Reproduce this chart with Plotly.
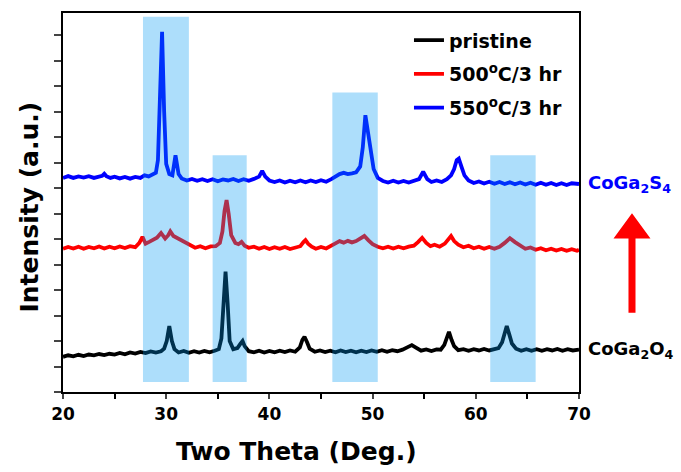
import plotly.graph_objects as go

# ---------------- data ----------------
two_theta_pristine = [20, 20.5, 21, 21.5, 22, 22.5, 23, 23.5, 24, 24.5,
                      25, 25.5, 26, 26.5, 27, 27.5, 28, 28.5, 29, 29.5,
                      29.8, 30.05, 30.3, 30.55, 30.8, 31.2, 31.7, 32.2, 32.7, 33.2,
                      33.7, 34.2, 34.7, 35.1, 35.35, 35.55, 35.75, 35.95, 36.15, 36.5,
                      36.9, 37.2, 37.4, 37.6, 38.0, 38.5, 39, 39.5, 40, 40.5,
                      41, 41.5, 42, 42.5, 42.95, 43.2, 43.4, 43.65, 43.9, 44.4,
                      44.9, 45.4, 45.9, 46.4, 46.9, 47.4, 47.9, 48.4, 48.9, 49.4,
                      49.9, 50.4, 50.9, 51.4, 51.9, 52.4, 52.9, 53.4, 53.8, 54.2,
                      54.7, 55.2, 55.7, 56.2, 56.6, 56.95, 57.2, 57.4, 57.65, 57.9,
                      58.3, 58.8, 59.3, 59.8, 60.3, 60.8, 61.3, 61.8, 62.2, 62.55,
                      62.8, 63.0, 63.25, 63.5, 63.9, 64.4, 64.9, 65.4, 65.9, 66.4,
                      66.9, 67.4, 67.9, 68.4, 68.9, 69.4, 70]
intensity_pristine = [1.38, 1.44, 1.40, 1.46, 1.41, 1.47, 1.44, 1.49, 1.45, 1.50,
                      1.47, 1.53, 1.48, 1.55, 1.51, 1.57, 1.53, 1.59, 1.55, 1.60,
                      1.70, 2.00, 2.59, 2.00, 1.68, 1.55, 1.61, 1.54, 1.60, 1.55,
                      1.61, 1.56, 1.62, 1.68, 2.10, 3.60, 4.72, 3.50, 2.00, 1.68,
                      1.72, 1.90, 2.00, 1.80, 1.60, 1.56, 1.62, 1.55, 1.61, 1.56,
                      1.62, 1.57, 1.63, 1.58, 1.75, 2.05, 2.17, 1.95, 1.70, 1.58,
                      1.63, 1.57, 1.62, 1.56, 1.63, 1.57, 1.62, 1.56, 1.62, 1.57,
                      1.63, 1.58, 1.64, 1.58, 1.64, 1.60, 1.66, 1.76, 1.84, 1.74,
                      1.62, 1.67, 1.61, 1.67, 1.66, 1.85, 2.15, 2.36, 2.05, 1.80,
                      1.64, 1.68, 1.62, 1.68, 1.63, 1.69, 1.63, 1.69, 1.72, 1.95,
                      2.35, 2.59, 2.25, 1.90, 1.70, 1.62, 1.68, 1.62, 1.68, 1.62,
                      1.68, 1.63, 1.69, 1.62, 1.68, 1.63, 1.66]

two_theta_500 = [20, 20.5, 21, 21.5, 22, 22.5, 23, 23.5, 24, 24.5,
                 25, 25.5, 26, 26.5, 27, 27.4, 27.7, 28.0, 28.4, 28.8,
                 29.1, 29.5, 29.9, 30.2, 30.4, 30.7, 31.0, 31.4, 31.8, 32.3,
                 32.8, 33.3, 33.8, 34.3, 34.8, 35.2, 35.45, 35.65, 35.85, 36.05,
                 36.3, 36.7, 37.0, 37.3, 37.6, 38.0, 38.5, 39, 39.5, 40,
                 40.5, 41, 41.5, 42, 42.5, 43.0, 43.3, 43.5, 43.75, 44.1,
                 44.5, 45, 45.5, 46, 46.4, 46.8, 47.2, 47.6, 48.0, 48.4,
                 48.8, 49.2, 49.6, 50.0, 50.5, 51, 51.5, 52, 52.5, 53,
                 53.5, 54.0, 54.4, 54.8, 55.2, 55.6, 56.0, 56.5, 57.0, 57.3,
                 57.6, 57.9, 58.3, 58.8, 59.3, 59.8, 60.3, 60.8, 61.3, 61.8,
                 62.3, 62.8, 63.3, 63.8, 64.3, 64.8, 65.3, 65.8, 66.3, 66.8,
                 67.3, 67.8, 68.3, 68.8, 69.3, 69.8, 70]
intensity_500 = [5.62, 5.69, 5.63, 5.70, 5.62, 5.69, 5.64, 5.71, 5.63, 5.70,
                 5.64, 5.71, 5.65, 5.72, 5.68, 5.85, 6.09, 5.82, 5.90, 5.98,
                 6.05, 6.24, 6.02, 6.15, 6.30, 6.12, 6.05, 5.98, 5.85, 5.75,
                 5.66, 5.72, 5.64, 5.71, 5.72, 5.85, 6.30, 7.10, 7.53, 7.00,
                 6.15, 5.85, 5.80, 5.89, 5.74, 5.66, 5.70, 5.62, 5.69, 5.61,
                 5.68, 5.62, 5.69, 5.61, 5.68, 5.72, 5.88, 5.96, 5.82, 5.70,
                 5.62, 5.69, 5.63, 5.72, 5.83, 5.92, 5.86, 5.93, 5.87, 5.92,
                 6.00, 6.12, 5.95, 5.80, 5.70, 5.64, 5.70, 5.63, 5.70, 5.64,
                 5.70, 5.74, 5.88, 6.05, 5.85, 5.72, 5.78, 5.70, 5.82, 5.98,
                 6.12, 5.92, 5.78, 5.68, 5.74, 5.64, 5.70, 5.62, 5.69, 5.62,
                 5.70, 5.85, 6.03, 5.88, 5.74, 5.62, 5.67, 5.58, 5.64, 5.56,
                 5.62, 5.55, 5.61, 5.54, 5.60, 5.54, 5.58]

two_theta_550 = [20, 20.5, 21, 21.5, 22, 22.5, 23, 23.5, 23.8, 24.0,
                 24.2, 24.6, 25, 25.5, 26, 26.5, 27, 27.5, 27.9, 28.3,
                 28.7, 29.0, 29.2, 29.4, 29.6, 29.8, 30.0, 30.3, 30.6, 30.9,
                 31.2, 31.5, 32.0, 32.5, 33, 33.5, 34, 34.5, 35, 35.5,
                 36, 36.5, 37, 37.5, 38, 38.5, 39.0, 39.3, 39.6, 40.0,
                 40.5, 41, 41.5, 42, 42.5, 43, 43.5, 44, 44.5, 45,
                 45.5, 46.0, 46.4, 46.8, 47.2, 47.6, 48.0, 48.4, 48.8, 49.05,
                 49.3, 49.55, 49.8, 50.1, 50.5, 51, 51.5, 52, 52.5, 53,
                 53.5, 54.0, 54.5, 54.9, 55.3, 55.7, 56.2, 56.7, 57.2, 57.6,
                 57.9, 58.15, 58.35, 58.6, 58.9, 59.3, 59.8, 60.3, 60.8, 61.3,
                 61.8, 62.3, 62.8, 63.3, 63.8, 64.3, 64.8, 65.3, 65.8, 66.3,
                 66.8, 67.3, 67.8, 68.3, 68.8, 69.3, 70]
intensity_550 = [8.40, 8.47, 8.40, 8.46, 8.41, 8.47, 8.40, 8.46, 8.48, 8.56,
                 8.47, 8.40, 8.45, 8.38, 8.44, 8.37, 8.44, 8.40, 8.50, 8.46,
                 8.52, 8.60, 9.10, 11.20, 14.13, 11.00, 8.95, 8.55, 8.50, 9.29,
                 8.55, 8.38, 8.30, 8.36, 8.29, 8.35, 8.28, 8.35, 8.27, 8.34,
                 8.30, 8.36, 8.28, 8.35, 8.29, 8.36, 8.45, 8.68, 8.45, 8.30,
                 8.24, 8.30, 8.22, 8.29, 8.23, 8.30, 8.23, 8.30, 8.24, 8.31,
                 8.25, 8.35, 8.45, 8.55, 8.60, 8.55, 8.58, 8.62, 8.85, 9.60,
                 10.86, 10.20, 9.30, 8.75, 8.40, 8.28, 8.22, 8.29, 8.22, 8.28,
                 8.22, 8.28, 8.35, 8.64, 8.35, 8.24, 8.30, 8.24, 8.35, 8.50,
                 8.75, 9.10, 9.16, 8.85, 8.50, 8.30, 8.20, 8.26, 8.18, 8.25,
                 8.17, 8.24, 8.16, 8.23, 8.15, 8.22, 8.14, 8.21, 8.13, 8.21,
                 8.13, 8.20, 8.12, 8.19, 8.12, 8.19, 8.16]

series_names = ["pristine", "500<sup>o</sup>C/3 hr", "550<sup>o</sup>C/3 hr"]
series_colors = ["#000000", "#FF0000", "#0000FF"]

# highlighted 2-theta bands
band_start = [27.75, 34.5, 46.1, 61.4]
band_end = [32.2, 37.8, 50.5, 65.8]
band_top = [14.72, 9.29, 11.75, 9.29]
band_bottom = 0.39

x_ticks = [20, 30, 40, 50, 60, 70]
phase_labels = ["CoGa<sub>2</sub>S<sub>4</sub>", "CoGa<sub>2</sub>O<sub>4</sub>"]
x_title = "Two Theta (Deg.)"
y_title = "Intensity (a.u.)"

FONT = "DejaVu Sans"

# ---------------- figure ----------------
fig = go.Figure()
xs = [two_theta_pristine, two_theta_500, two_theta_550]
ys = [intensity_pristine, intensity_500, intensity_550]
for name, x, y, c in zip(series_names, xs, ys, series_colors):
    fig.add_trace(go.Scatter(x=x, y=y, mode="lines", name=name, legendgroup=name,
                             line=dict(color=c, width=3.8)))

for x0, x1, top in zip(band_start, band_end, band_top):
    fig.add_shape(type="rect", xref="x", yref="y", x0=x0, x1=x1, y0=band_bottom, y1=top,
                  fillcolor="rgba(0,152,242,0.32)", line=dict(width=0), layer="above")

# red arrow (decoration, paper coordinates)
cx, hw, sw, tip, hb, bot = 1.1027, 0.0358, 0.0068, 0.4719, 0.4052, 0.2091
arrow_path = (f"M{cx - sw},{bot} L{cx - sw},{hb} L{cx - hw},{hb} L{cx},{tip} "
              f"L{cx + hw},{hb} L{cx + sw},{hb} L{cx + sw},{bot} Z")
fig.add_shape(type="path", xref="paper", yref="paper", path=arrow_path,
              fillcolor="#FF0000", line=dict(width=0))

fig.add_annotation(x=1.0136, xref="paper", y=intensity_550[-1], yref="y", text=phase_labels[0],
                   showarrow=False, xanchor="left", yanchor="middle",
                   font=dict(family=FONT, size=18, color="#0000FF", weight="bold"))
fig.add_annotation(x=1.0136, xref="paper", y=intensity_pristine[-1], yref="y", text=phase_labels[1],
                   showarrow=False, xanchor="left", yanchor="middle",
                   font=dict(family=FONT, size=18, color="#000000", weight="bold"))

# axis titles (placed as in the reference, slightly off-centre)
fig.add_annotation(x=0.4516, xref="paper", y=-0.158, yref="paper", text=x_title,
                   showarrow=False, xanchor="center", yanchor="middle",
                   font=dict(family=FONT, size=25, color="black", weight="bold"))
fig.add_annotation(x=-0.065, xref="paper", y=0.488, yref="paper", text=y_title,
                   showarrow=False, xanchor="center", yanchor="middle", textangle=-90,
                   font=dict(family=FONT, size=25, color="black", weight="bold"))

fig.update_layout(
    width=681, height=472,
    margin=dict(l=63, r=102, t=13, b=80),
    plot_bgcolor="white", paper_bgcolor="white",
    font=dict(family=FONT, color="black"),
    showlegend=True,
    legend=dict(x=0.6705, y=0.978, xanchor="left", yanchor="top",
                bgcolor="rgba(0,0,0,0)", tracegroupgap=6,
                font=dict(family=FONT, size=19, color="black", weight="bold")),
    xaxis=dict(range=[20, 70], tickvals=x_ticks, ticks="outside", ticklen=5, tickwidth=1.5,
               showline=True, linecolor="black", linewidth=1.5, mirror=True,
               showgrid=False, zeroline=False, automargin=False, ticklabelstandoff=1,
               minor=dict(dtick=5, ticks="outside", ticklen=5, tickwidth=1.5, tickcolor="black"),
               tickfont=dict(family=FONT, size=17, color="black", weight="bold")),
    yaxis=dict(range=[0, 14.87], dtick=1, tick0=0, ticks="outside", ticklen=7, tickwidth=1.5,
               showticklabels=False, automargin=False,
               showline=True, linecolor="black", linewidth=1.5, mirror=True,
               showgrid=False, zeroline=False),
)

fig.write_html("out.html", config={"displayModeBar": False},
               post_script="document.body.style.margin='0px';")
